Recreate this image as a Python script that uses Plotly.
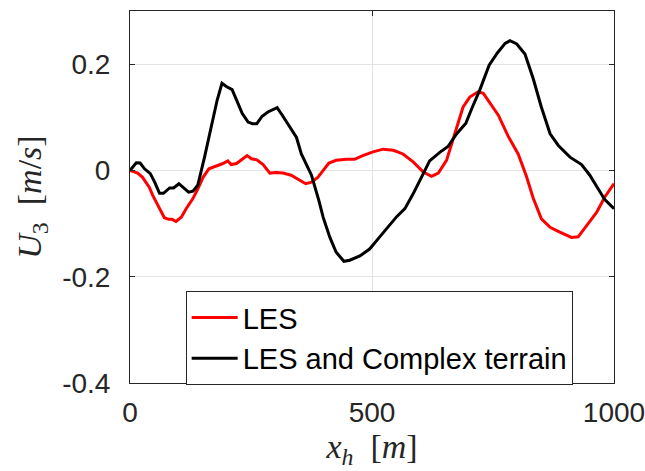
import plotly.graph_objects as go

# Data
les_x = [0, 16, 26, 33, 40, 47, 61, 71, 80, 87, 95, 106, 116, 130, 140, 151, 163, 178, 192, 202, 209, 220, 230,
         242, 251, 262, 275, 289, 302, 316, 333, 351, 363, 375, 388, 400, 411, 426, 447, 464, 481, 502, 523, 544,
         564, 585, 606, 623, 637, 654, 671, 688, 702, 719, 730, 744, 761, 781, 802, 819, 833, 850, 868, 888, 899,
         912, 926, 944, 964, 981, 1000]
les_y = [0.0, -0.005, -0.013, -0.022, -0.032, -0.047, -0.072, -0.089, -0.092, -0.092, -0.096, -0.088, -0.072,
         -0.053, -0.035, -0.013, 0.003, 0.008, 0.013, 0.018, 0.011, 0.013, 0.020, 0.028, 0.022, 0.020, 0.011,
         -0.005, -0.004, -0.005, -0.009, -0.018, -0.025, -0.022, -0.013, 0.001, 0.014, 0.019, 0.021, 0.021, 0.028,
         0.035, 0.040, 0.038, 0.031, 0.016, -0.003, -0.011, -0.005, 0.019, 0.069, 0.119, 0.138, 0.148, 0.145,
         0.126, 0.104, 0.065, 0.031, -0.011, -0.052, -0.091, -0.107, -0.116, -0.120, -0.126, -0.125, -0.104,
         -0.079, -0.050, -0.025]

ct_x = [0, 13, 21, 30, 42, 51, 61, 69, 82, 90, 101, 113, 121, 130, 140, 154, 168, 180, 190, 199, 211, 221, 232,
        244, 253, 262, 273, 285, 304, 316, 330, 344, 354, 364, 375, 390, 399, 413, 426, 442, 454, 475, 495, 516,
        537, 551, 568, 585, 606, 619, 640, 657, 675, 694, 706, 723, 742, 759, 775, 785, 799, 816, 833, 850, 868,
        885, 909, 933, 950, 967, 981, 1000]
ct_y = [0.0, 0.0145, 0.014, 0.003, -0.006, -0.022, -0.043, -0.043, -0.033, -0.033, -0.025, -0.035, -0.041,
        -0.039, -0.028, 0.025, 0.082, 0.132, 0.164, 0.158, 0.152, 0.132, 0.107, 0.091, 0.088, 0.088, 0.102,
        0.110, 0.118, 0.102, 0.083, 0.062, 0.031, 0.013, -0.009, -0.056, -0.088, -0.126, -0.154, -0.171, -0.169,
        -0.161, -0.148, -0.125, -0.101, -0.087, -0.072, -0.044, -0.006, 0.018, 0.034, 0.045, 0.069, 0.089, 0.116,
        0.152, 0.198, 0.221, 0.239, 0.244, 0.238, 0.219, 0.173, 0.119, 0.069, 0.047, 0.025, 0.011, -0.009,
        -0.035, -0.055, -0.072]

x_ticks = [0, 500, 1000]
y_ticks = [-0.4, -0.2, 0, 0.2]
y_ticktext = ["-0.4", "-0.2", "0", "0.2"]

fig = go.Figure()
fig.add_trace(go.Scatter(x=les_x, y=les_y, mode="lines", name="LES",
                         line=dict(color="#ff0000", width=3)))
fig.add_trace(go.Scatter(x=ct_x, y=ct_y, mode="lines", name="LES and Complex terrain",
                         line=dict(color="#000000", width=3)))

tick_font = dict(family="Liberation Sans, Arial, sans-serif", size=28, color="#262626")
title_font = dict(family="Liberation Serif, serif", size=34, color="#262626")
axis_common = dict(showline=True, linecolor="#262626", linewidth=1, mirror="ticks",
                   ticks="inside", ticklen=5, tickcolor="#262626",
                   showgrid=True, gridcolor="#e3e3e3", gridwidth=1, zeroline=False,
                   tickfont=tick_font, ticklabeloverflow="allow", automargin=False)

fig.update_xaxes(range=[0, 1000], tickvals=x_ticks, ticktext=[str(v) for v in x_ticks],
                 ticklabelstandoff=4,
                 title=dict(text="<i>x</i><sub><i>h</i></sub>  [<i>m</i>]", font=title_font, standoff=4),
                 **axis_common)
fig.update_yaxes(range=[-0.4, 0.3], tickvals=y_ticks, ticktext=y_ticktext,
                 ticklabelstandoff=13,
                 title=dict(text="<i>U</i><sub>3</sub>  [<i>m</i>/<i>s</i>]", font=title_font, standoff=10),
                 **axis_common)

fig.update_layout(
    width=645, height=471,
    margin=dict(l=130, r=31, t=11, b=88),
    paper_bgcolor="white", plot_bgcolor="white",
    showlegend=True,
    legend=dict(x=0.115, y=0.247, xanchor="left", yanchor="top",
                bgcolor="white", bordercolor="#262626", borderwidth=1,
                font=dict(family="Liberation Sans, Arial, sans-serif", size=29, color="#000000"),
                tracegroupgap=0, itemwidth=46),
)

fig.write_html("out.html")
